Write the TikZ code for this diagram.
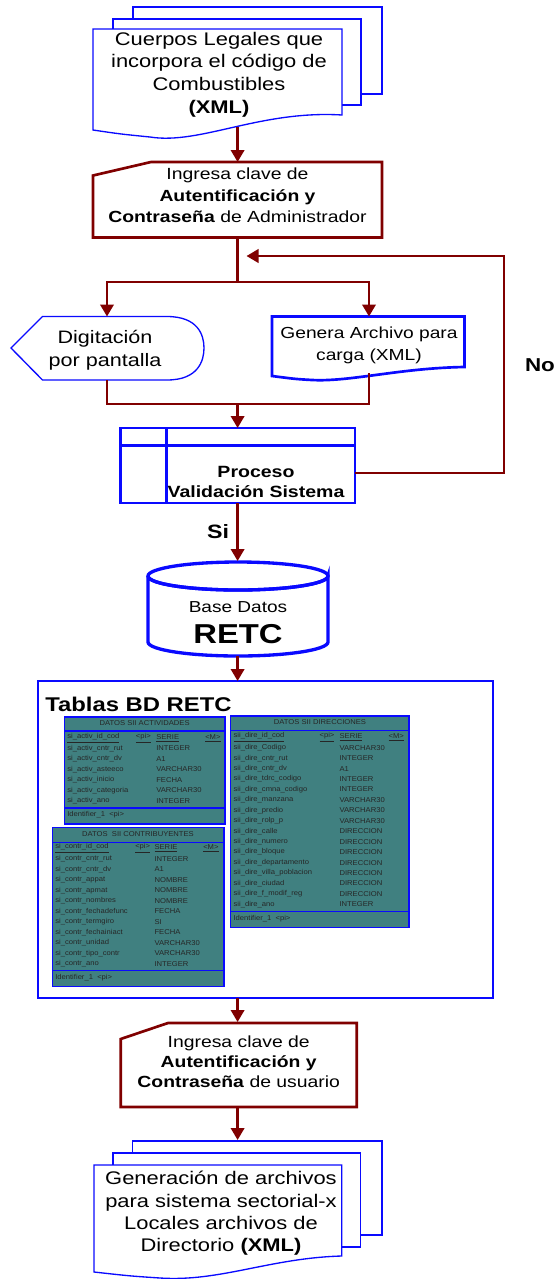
\documentclass[tikz,border=0pt]{standalone}
\usepackage{fontspec}
\setmainfont{Liberation Sans}[FakeStretch=1.2]
\newfontfamily\tblfont{Liberation Sans}[FakeStretch=1.08]
\usetikzlibrary{arrows.meta,calc}

\definecolor{flowred}{RGB}{128,0,0}
\definecolor{boxblue}{RGB}{10,10,255}
\definecolor{tblteal}{RGB}{64,128,128}

\tikzset{
  flow/.style={draw=flowred, line width=2pt, -{Triangle[length=9pt,width=10pt]}},
  link/.style={draw=flowred, line width=2pt},
  docshape/.style={draw=boxblue, fill=white, line width=1pt},
  manshape/.style={draw=flowred, fill=white, line width=2pt},
  txt/.style={align=center, inner sep=0pt},
  tbl/.style={draw=boxblue, fill=tblteal, line width=0.8pt},
  tbltxt/.style={anchor=west, inner sep=0pt, text=black!85, font=\tblfont\fontsize{5.3}{6}\selectfont},
}

\begin{document}
\begin{tikzpicture}[x=0.75pt,y=-0.75pt]
  \useasboundingbox (0,0) rectangle (556,1279);

  % documentos de entrada
  \draw[docshape] (133,7) rectangle (382,94);
  \draw[docshape] (113,19) rectangle (361,105);
  \draw[docshape] (93,29) -- (342,29) -- (342,115) .. controls (260,110) and (200,145) .. (150,137) .. controls (120,134) .. (93,130) -- cycle;
  \node[txt, font=\fontsize{13.7}{17}\selectfont] (cuerposNode) at (219,74.5) {Cuerpos Legales que\\incorpora el código de\\Combustibles\\\textbf{(XML)}};

  % clave administrador
  \draw[manshape] (93,175.5) -- (151,162) -- (382,162) -- (382,237.5) -- (93,237.5) -- cycle;
  \node[txt, font=\fontsize{12.1}{16}\selectfont] (ingresaANode) at (237.5,195.5) {Ingresa clave de\\\textbf{Autentificación y}\\\textbf{Contraseña} de Administrador};

  % entradas
  \draw[draw=boxblue, fill=white, line width=1pt] (11,348) -- (42.5,316.5) -- (167,316.5) .. controls (198,316.5) and (204,335) .. (204,348) .. controls (204,361) and (198,380) .. (167,380) -- (42.5,380) -- cycle;
  \node[txt, font=\fontsize{13.5}{17}\selectfont] (digitNode) at (105,350) {Digitación\\por pantalla};
  \draw[draw=boxblue, fill=white, line width=2pt] (272,316.5) -- (464.5,316.5) -- (464.5,367) .. controls (400,368) and (350,382) .. (312,380) .. controls (295,379) .. (272,376) -- cycle;
  \node[txt, font=\fontsize{12}{16}\selectfont] (generaNode) at (369,345.5) {Genera Archivo para\\carga (XML)};

  % proceso
  \draw[draw=boxblue, fill=white, line width=2pt] (120.5,428) rectangle (355,503);
  \draw[draw=boxblue, line width=2pt] (120.5,445.6) -- (355,445.6) (166.7,428) -- (166.7,503);
  \node[txt, font=\bfseries\fontsize{12.2}{15.5}\selectfont] (procesoNode) at (256,482) {Proceso\\Validación Sistema};
  \node[font=\bfseries\fontsize{14}{17}\selectfont] (noNode) at (540,365) {No};
  \node[font=\bfseries\fontsize{14.5}{17}\selectfont] (siNode) at (218,532) {Si};

  % base de datos
  \draw[draw=boxblue, fill=white, line width=2.5pt] (148,576) -- (148,642) arc[start angle=180, end angle=0, x radius=90, y radius=14] -- (328,576) arc[start angle=0, end angle=180, x radius=90, y radius=14];
  \draw[draw=boxblue, line width=2.5pt] (238,576) ellipse [x radius=90, y radius=14];
  \node[font=\fontsize{11.9}{14}\selectfont] (baseNode) at (238,607) {Base Datos};
  \node[font=\bfseries\fontsize{20.5}{24}\selectfont] (retcNode) at (238,634) {RETC};

  % tablas
  \draw[draw=boxblue, fill=white, line width=1.5pt] (38,681) rectangle (493,998);
  \node[anchor=west, inner sep=0pt, font=\bfseries\fontsize{14.9}{18}\selectfont] (tablasNode) at (45,704) {Tablas BD RETC};

  \draw[tbl] (64.3,717) rectangle (225,824);
  \draw[draw=boxblue, line width=0.8pt] (64.3,731) -- (225,731) (64.3,808) -- (225,808);
  \node[tbltxt, anchor=center] (actTitle) at (144.6,723.5) {DATOS SII ACTIVIDADES};
  \node[tbltxt] (actKey) at (67,738) {\underline{si\_activ\_id\_cod}};
  \node[tbltxt] (actPi) at (135.7,738) {\underline{<pi>}};
  \node[tbltxt] (actSerie) at (156,738) {\underline{SERIE}};
  \node[tbltxt] (actM) at (205,738) {\underline{<M>}};
  \foreach \n/\t [count=\i] in {si\_activ\_cntr\_rut/INTEGER, si\_activ\_cntr\_dv/A1, si\_activ\_asteeco/VARCHAR30, si\_activ\_inicio/FECHA, si\_activ\_categoria/VARCHAR30, si\_activ\_ano/INTEGER} {
    \node[tbltxt] (actName\i) at (67,{738+10.45*\i}) {\n};
    \node[tbltxt] (actType\i) at (156,{738+10.45*\i}) {\t};
  }
  \node[tbltxt] (actId) at (67,814.5) {Identifier\_1\ \ <pi>};

  \draw[tbl] (52.3,827.3) rectangle (224,986.7);
  \draw[draw=boxblue, line width=0.8pt] (52.3,842.3) -- (224,842.3) (52.3,970.7) -- (224,970.7);
  \node[tbltxt, anchor=center] (contrTitle) at (138,834) {DATOS\ \ SII CONTRIBUYENTES};
  \node[tbltxt] (contrKey) at (55,848.3) {\underline{si\_contr\_id\_cod}};
  \node[tbltxt] (contrPi) at (135,848.3) {\underline{<pi>}};
  \node[tbltxt] (contrSerie) at (154.3,848.3) {\underline{SERIE}};
  \node[tbltxt] (contrM) at (203,848.3) {\underline{<M>}};
  \foreach \n/\t [count=\i] in {si\_contr\_cntr\_rut/INTEGER, si\_contr\_cntr\_dv/A1, si\_contr\_appat/NOMBRE, si\_contr\_apmat/NOMBRE, si\_contr\_nombres/NOMBRE, si\_contr\_fechadefunc/FECHA, si\_contr\_termgiro/SI, si\_contr\_fechainiact/FECHA, si\_contr\_unidad/VARCHAR30, si\_contr\_tipo\_contr/VARCHAR30, si\_contr\_ano/INTEGER} {
    \node[tbltxt] (contrName\i) at (55,{848.3+10.52*\i}) {\n};
    \node[tbltxt] (contrType\i) at (154.3,{848.3+10.52*\i}) {\t};
  }
  \node[tbltxt] (contrId) at (55,977.5) {Identifier\_1\ \ <pi>};

  \draw[tbl] (230.7,716) rectangle (409,927.7);
  \draw[draw=boxblue, line width=0.8pt] (230.7,730.7) -- (409,730.7) (230.7,911.7) -- (409,911.7);
  \node[tbltxt, anchor=center] (direTitle) at (320,722) {DATOS SII DIRECCIONES};
  \node[tbltxt] (direKey) at (233.3,737.3) {\underline{sii\_dire\_id\_cod}};
  \node[tbltxt] (direPi) at (319.3,737.3) {\underline{<pi>}};
  \node[tbltxt] (direSerie) at (339.3,737.3) {\underline{SERIE}};
  \node[tbltxt] (direM) at (388.3,737.3) {\underline{<M>}};
  \foreach \n/\t [count=\i] in {sii\_dire\_Codigo/VARCHAR30, sii\_dire\_cntr\_rut/INTEGER, sii\_dire\_cntr\_dv/A1, sii\_dire\_tdrc\_codigo/INTEGER, sii\_dire\_cmna\_codigo/INTEGER, sii\_dire\_manzana/VARCHAR30, sii\_dire\_predio/VARCHAR30, sii\_dire\_rolp\_p/VARCHAR30, sii\_dire\_calle/DIRECCION, sii\_dire\_numero/DIRECCION, sii\_dire\_bloque/DIRECCION, sii\_dire\_departamento/DIRECCION, sii\_dire\_villa\_poblacion/DIRECCION, sii\_dire\_ciudad/DIRECCION, sii\_dire\_f\_modif\_reg/DIRECCION, sii\_dire\_ano/INTEGER} {
    \node[tbltxt] (direName\i) at (233.3,{737.3+10.44*\i}) {\n};
    \node[tbltxt] (direType\i) at (339.3,{737.3+10.44*\i}) {\t};
  }
  \node[tbltxt] (direId) at (233.3,918.5) {Identifier\_1\ \ <pi>};

  % clave usuario
  \draw[manshape] (120.7,1039) -- (168,1023) -- (356.7,1023) -- (356.7,1107) -- (120.7,1107) -- cycle;
  \node[txt, font=\fontsize{12.1}{15}\selectfont] (ingresaBNode) at (238.7,1062) {Ingresa clave de\\\textbf{Autentificación y}\\\textbf{Contraseña} de usuario};

  % documentos de salida
  \draw[docshape] (132.7,1141) rectangle (382,1235);
  \draw[docshape] (113,1153) rectangle (360.7,1247);
  \draw[docshape] (94,1165) -- (341.7,1165) -- (341.7,1256) .. controls (270,1258) and (220,1282) .. (160,1278) .. controls (130,1276) .. (94,1272) -- cycle;
  \node[txt, font=\fontsize{13.7}{16.7}\selectfont] (generacionNode) at (221,1213.5) {Generación de archivos\\para sistema sectorial-x\\Locales archivos de\\Directorio \textbf{(XML)}};

  % puntos de conexion
  \coordinate (cuerposOut) at (237.6,127);
  \coordinate (ingresaAIn) at (237.6,162);
  \coordinate (ingresaAOut) at (237.6,237.5);
  \coordinate (splitA) at (237.6,282);
  \coordinate (digitIn) at (107,316.5);
  \coordinate (generaIn) at (369,316.5);
  \coordinate (digitOut) at (107,380);
  \coordinate (generaOut) at (369,373);
  \coordinate (joinA) at (237.6,404);
  \coordinate (procesoIn) at (237.6,428);
  \coordinate (procesoOut) at (355,473);
  \coordinate (backCorner) at (504,256);
  \coordinate (backIn) at (246.5,256);
  \coordinate (procesoDown) at (237.6,503);
  \coordinate (baseIn) at (237.6,561);
  \coordinate (baseOut) at (237.6,656);
  \coordinate (tablasIn) at (237.6,681);
  \coordinate (tablasOut) at (237.6,998);
  \coordinate (ingresaBIn) at (237.6,1022);
  \coordinate (ingresaBOut) at (237.6,1107);
  \coordinate (generacionIn) at (237.6,1140);

  \draw[flow] (cuerposOut) -- (ingresaAIn);
  \draw[link] (ingresaAOut) -- (splitA);
  \draw[flow] (splitA) -| (digitIn);
  \draw[flow] (splitA) -| (generaIn);
  \draw[link] (digitOut) |- (joinA);
  \draw[link] (generaOut) |- (joinA);
  \draw[flow] (joinA) -- (procesoIn);
  \draw[flow] (procesoOut) -| (backCorner) -- (backIn);
  \draw[flow] (procesoDown) -- (baseIn);
  \draw[flow] (baseOut) -- (tablasIn);
  \draw[flow] (tablasOut) -- (ingresaBIn);
  \draw[flow] (ingresaBOut) -- (generacionIn);

\end{tikzpicture}
\end{document}
